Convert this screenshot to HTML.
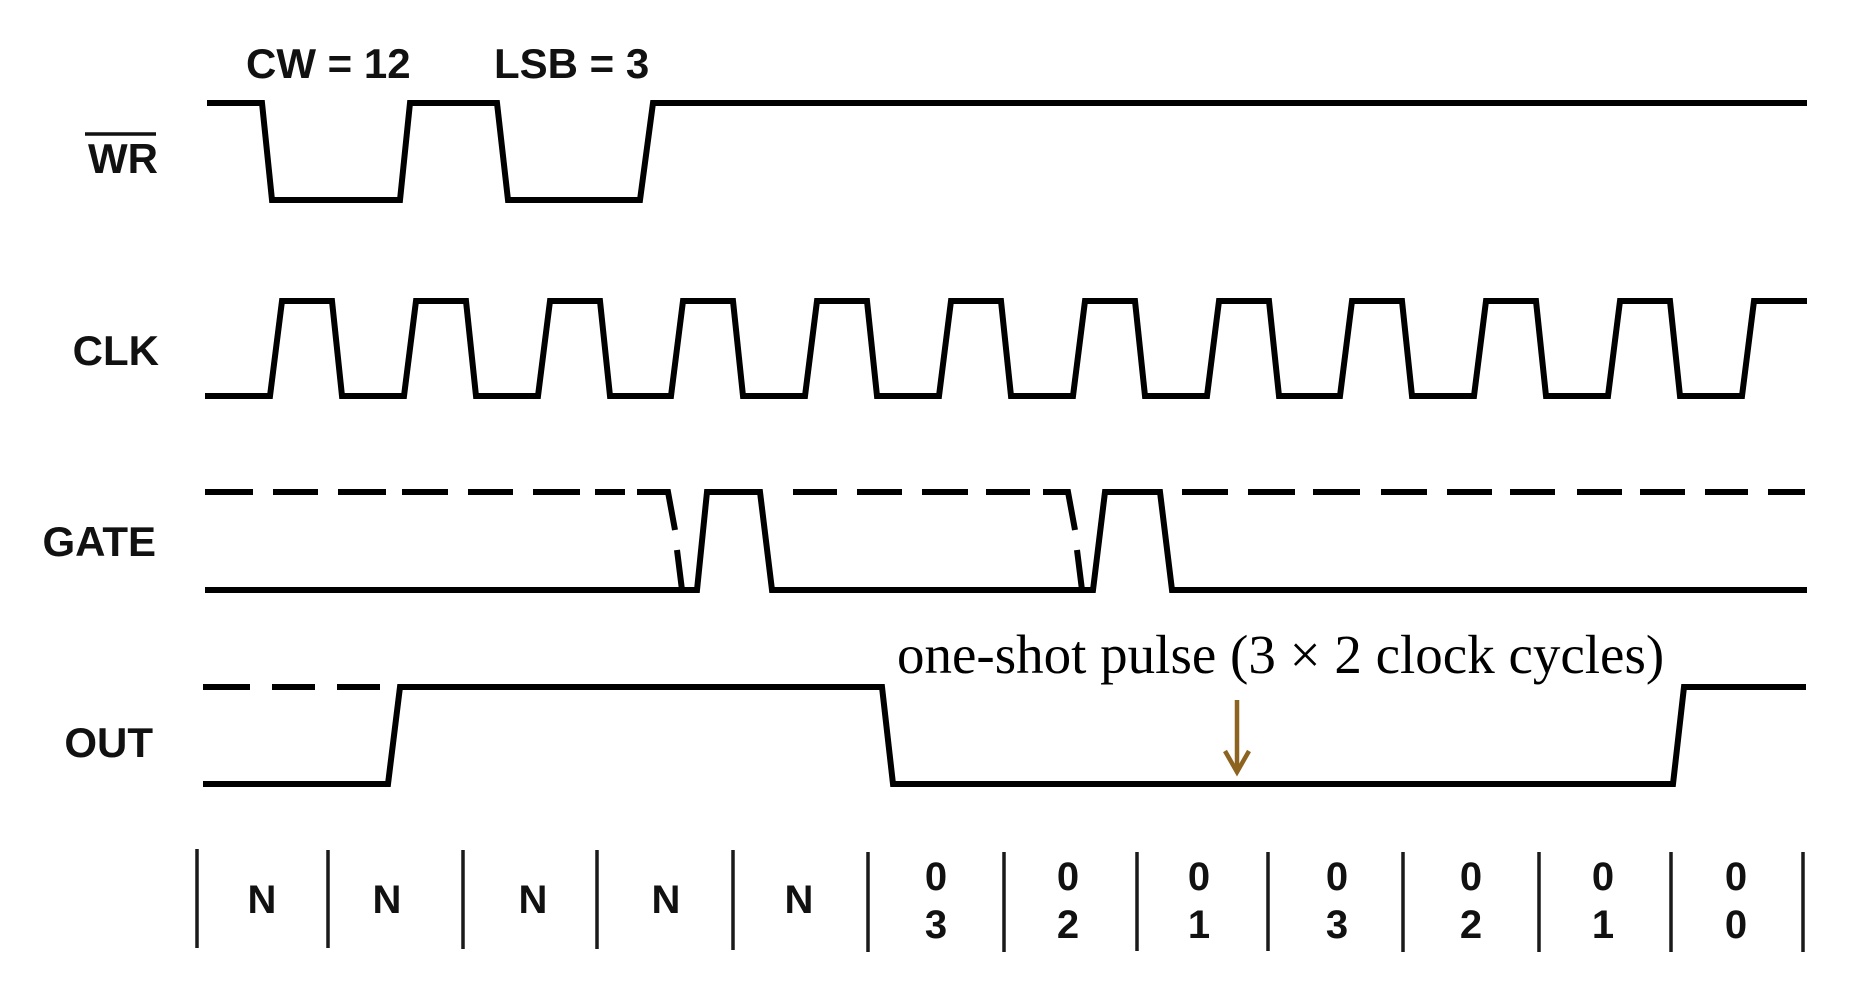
<!DOCTYPE html>
<html>
<head>
<meta charset="utf-8">
<style>
  html,body{margin:0;padding:0;background:#fff;}
  body{width:1856px;height:994px;overflow:hidden;}
  svg{display:block;}
  .lbl{font-family:"Liberation Sans",Arial,sans-serif;font-weight:bold;font-size:42px;fill:#111;}
  .cell{font-family:"Liberation Sans",Arial,sans-serif;font-weight:bold;font-size:40px;fill:#111;}
  .ann{font-family:"Liberation Serif","Times New Roman",serif;font-size:55px;fill:#000;}
</style>
</head>
<body>
<svg width="1856" height="994" viewBox="0 0 1856 994" xmlns="http://www.w3.org/2000/svg">
  <rect x="0" y="0" width="1856" height="994" fill="#fff"/>

  <!-- Top annotations -->
  <text class="lbl" x="246" y="78">CW = 12</text>
  <text class="lbl" x="494" y="78">LSB = 3</text>

  <!-- Signal labels -->
  <text class="lbl" x="158" y="173" text-anchor="end">WR</text>
  <line x1="85" y1="134" x2="156" y2="134" stroke="#111" stroke-width="3.5"/>
  <text class="lbl" x="159" y="365" text-anchor="end">CLK</text>
  <text class="lbl" x="156" y="556" text-anchor="end">GATE</text>
  <text class="lbl" x="153" y="757" text-anchor="end">OUT</text>

  <g fill="none" stroke="#000" stroke-width="6" stroke-linejoin="miter" stroke-linecap="butt">
    <!-- WR -->
    <path d="M207,103 H262 L272,200 H400 L410,103 H497 L508,200 H640 L653,103 H1807"/>

    <!-- CLK -->
    <path d="M205,396
      H270 L282,301 H332 L342,396
      H404 L416,301 H466 L476,396
      H538 L550,301 H600 L610,396
      H671 L683,301 H733 L743,396
      H805 L817,301 H867 L877,396
      H939 L951,301 H1001 L1011,396
      H1073 L1085,301 H1135 L1145,396
      H1207 L1219,301 H1269 L1279,396
      H1340 L1352,301 H1402 L1412,396
      H1474 L1486,301 H1536 L1546,396
      H1608 L1620,301 H1670 L1680,396
      H1742 L1754,301 H1807"/>

    <!-- GATE solid -->
    <path d="M205,590 H697 L707,492 H760 L772,590 H1093 L1105,492 H1160 L1172,590 H1807"/>

    <!-- GATE dashed (before pulse 1) -->
    <path d="M205,492 H253 M273,492 H318 M338,492 H386 M402,492 H448 M468,492 H513 M533,492 H580 M595,492 H625"/>
    <path d="M637,492 H668 L675,530"/>
    <path d="M677,550 L682,590"/>
    <!-- GATE dashed (between pulses) -->
    <path d="M793,492 H837 M857,492 H902 M922,492 H968 M986,492 H1030"/>
    <path d="M1043,492 H1068 L1075,530"/>
    <path d="M1077,550 L1082,590"/>
    <!-- GATE dashed (after pulse 2) -->
    <path d="M1182,492 H1228 M1248,492 H1295 M1313,492 H1360 M1381,492 H1427 M1447,492 H1492 M1510,492 H1555 M1577,492 H1622 M1640,492 H1685 M1705,492 H1748 M1768,492 H1805"/>

    <!-- OUT -->
    <path d="M203,784 H388 L400,687 H882 L893,784 H1673 L1684,687 H1806"/>
    <path d="M203,687 H250 M272,687 H315 M337,687 H380"/>
  </g>

  <!-- Count ticks -->
  <g stroke="#1a1a1a" stroke-width="3.5">
    <line x1="197" y1="849" x2="197" y2="948"/>
    <line x1="328" y1="850" x2="328" y2="948"/>
    <line x1="463" y1="850" x2="463" y2="949"/>
    <line x1="597" y1="850" x2="597" y2="949"/>
    <line x1="733" y1="850" x2="733" y2="950"/>
    <line x1="868" y1="852" x2="868" y2="952"/>
    <line x1="1004" y1="852" x2="1004" y2="952"/>
    <line x1="1137" y1="852" x2="1137" y2="951"/>
    <line x1="1268" y1="852" x2="1268" y2="951"/>
    <line x1="1403" y1="852" x2="1403" y2="952"/>
    <line x1="1539" y1="852" x2="1539" y2="952"/>
    <line x1="1671" y1="852" x2="1671" y2="952"/>
    <line x1="1803" y1="852" x2="1803" y2="952"/>
  </g>

  <!-- Cell labels -->
  <g class="cell" text-anchor="middle">
    <text x="262" y="913">N</text>
    <text x="387" y="913">N</text>
    <text x="533" y="913">N</text>
    <text x="666" y="913">N</text>
    <text x="799" y="913">N</text>

    <text x="936" y="890">0</text><text x="936" y="938">3</text>
    <text x="1068" y="890">0</text><text x="1068" y="938">2</text>
    <text x="1199" y="890">0</text><text x="1199" y="938">1</text>
    <text x="1337" y="890">0</text><text x="1337" y="938">3</text>
    <text x="1471" y="890">0</text><text x="1471" y="938">2</text>
    <text x="1603" y="890">0</text><text x="1603" y="938">1</text>
    <text x="1736" y="890">0</text><text x="1736" y="938">0</text>
  </g>

  <!-- Annotation -->
  <text class="ann" x="897" y="673">one-shot pulse (3 × 2 clock cycles)</text>

  <!-- Brown arrow -->
  <g stroke="#8c6420" fill="none" stroke-width="4.5">
    <line x1="1237" y1="700" x2="1237" y2="768"/>
    <polyline points="1225,751 1237,772 1249,751" stroke-linejoin="miter"/>
  </g>
  <polygon points="1232,764 1242,764 1237,775" fill="#8c6420"/>
</svg>
</body>
</html>
